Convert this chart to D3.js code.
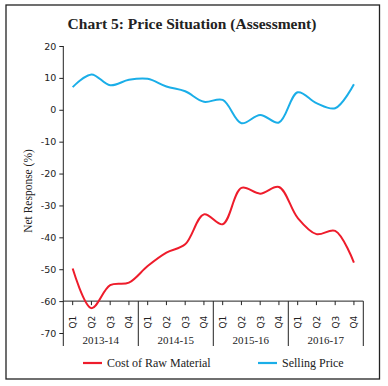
<!DOCTYPE html>
<html>
<head>
<meta charset="utf-8">
<script src="https://cdn.jsdelivr.net/npm/d3@7"></script>
<style>
  body { margin: 0; background: #fff; }
  svg { display: block; }
  .tick text { font-family: "DejaVu Sans", Verdana, sans-serif; font-size: 9.5px; fill: #222; }
</style>
</head>
<body>
<div id="chart"></div>
<script>
// data
var years = ["2013-14", "2014-15", "2015-16", "2016-17"]
var quarters = ["Q1", "Q2", "Q3", "Q4"]
var rawMaterial = [-49.8, -62.2, -55, -54.2, -49, -44.8, -42.2, -32.8, -35.9, -24.5, -26.3, -24.2, -33.9, -39, -38, -47.9]
var sellingPrice = [7.1, 11.1, 7.7, 9.4, 9.7, 7.3, 5.8, 2.5, 3.1, -4.2, -1.6, -4.0, 5.5, 2.1, 0.5, 8.0]
var yTicks = [20, 10, 0, -10, -20, -30, -40, -50, -60, -70]

var W = 388, H = 386
// plot box (window.top is read-only, so keep own names)
var pLeft = 63.3, pRight = 363.3, pTop = 46, pBottom = 333

var svg = d3.select("#chart").append("svg")
    .attr("width", W)
    .attr("height", H)

// frame
svg.append("rect")
    .attr("x", 6).attr("y", 5)
    .attr("width", 373.5).attr("height", 374)
    .attr("fill", "none")
    .attr("stroke", "#222")
    .attr("stroke-width", 1.3)

// title
svg.append("text")
    .attr("x", 192).attr("y", 29)
    .attr("text-anchor", "middle")
    .style("font-family", "'Liberation Serif', 'DejaVu Serif', serif")
    .style("font-weight", "bold")
    .style("font-size", "15.5px")
    .attr("fill", "#222")
    .text("Chart 5: Price Situation (Assessment)")

// categories: one per quarter
var cats = []
years.forEach(function(yr){
  quarters.forEach(function(q){ cats.push(yr + " " + q) })
})

var x = d3.scaleBand().domain(cats).range([pLeft, pRight])
var y = d3.scaleLinear().domain([-70, 20]).range([pBottom, pTop])

// y axis (plain hyphen for negatives, like the source)
var yAxis = svg.append("g")
    .attr("transform", "translate(" + pLeft + ",0)")
    .call(d3.axisLeft(y).tickValues(yTicks).tickSize(4).tickPadding(3)
        .tickFormat(d => String(d)))
yAxis.select(".domain").remove()
yAxis.selectAll(".tick line").attr("stroke", "#222")
svg.append("line")
    .attr("x1", pLeft).attr("x2", pLeft)
    .attr("y1", pTop).attr("y2", 346)
    .attr("stroke", "#222")

// y label
svg.append("text")
    .attr("transform", "translate(32,191) rotate(-90)")
    .attr("text-anchor", "middle")
    .style("font-family", "'Liberation Serif', 'DejaVu Serif', serif")
    .style("font-size", "11.5px")
    .attr("fill", "#222")
    .text("Net Response (%)")

// x axis sits at -60
var axisY = y(-60)
svg.append("line")
    .attr("x1", pLeft).attr("x2", pRight)
    .attr("y1", axisY).attr("y2", axisY)
    .attr("stroke", "#222")

var qg = svg.append("g")
qg.selectAll("line.qtick")
    .data(cats)
    .join("line")
    .attr("class", "qtick")
    .attr("x1", d => x(d) + x.bandwidth() / 2)
    .attr("x2", d => x(d) + x.bandwidth() / 2)
    .attr("y1", axisY).attr("y2", axisY + 4)
    .attr("stroke", "#222")

qg.selectAll("text")
    .data(cats)
    .join("text")
    .attr("transform", d => "translate(" + (x(d) + x.bandwidth() / 2 + 3.5) + "," + (axisY + 21) + ") rotate(-90)")
    .attr("text-anchor", "middle")
    .style("font-family", "'DejaVu Sans', Verdana, sans-serif")
    .style("font-size", "9px")
    .attr("fill", "#222")
    .text(d => d.split(" ")[1])

// year separators and labels
var yw = (pRight - pLeft) / years.length
svg.selectAll("line.ysep")
    .data(years)
    .join("line")
    .attr("class", "ysep")
    .attr("x1", (d, i) => pLeft + yw * (i + 1))
    .attr("x2", (d, i) => pLeft + yw * (i + 1))
    .attr("y1", axisY).attr("y2", 346)
    .attr("stroke", "#222")

svg.selectAll("text.year")
    .data(years)
    .join("text")
    .attr("class", "year")
    .attr("x", (d, i) => pLeft + yw * (i + 0.5))
    .attr("y", 344)
    .attr("text-anchor", "middle")
    .style("font-family", "'Liberation Serif', 'DejaVu Serif', serif")
    .style("font-size", "11px")
    .attr("fill", "#222")
    .text(d => d)

// lines
var line = d3.line()
    .x((d, i) => x(cats[i]) + x.bandwidth() / 2)
    .y(d => y(d))
    .curve(d3.curveCatmullRom.alpha(0.5))

svg.append("path")
    .datum(sellingPrice)
    .attr("d", line)
    .attr("fill", "none")
    .attr("stroke", "#1aaee8")
    .attr("stroke-width", 2)

svg.append("path")
    .datum(rawMaterial)
    .attr("d", line)
    .attr("fill", "none")
    .attr("stroke", "#ee1c2b")
    .attr("stroke-width", 2)

// legend
var legend = [
  {name: "Cost of Raw Material", color: "#ee1c2b", x: 83},
  {name: "Selling Price", color: "#1aaee8", x: 258}
]
var lg = svg.selectAll("g.legend")
    .data(legend)
    .join("g")
    .attr("class", "legend")
    .attr("transform", d => "translate(" + d.x + ",363)")
lg.append("line")
    .attr("x1", 0).attr("x2", 19)
    .attr("stroke", d => d.color)
    .attr("stroke-width", 2.2)
lg.append("text")
    .attr("x", 24).attr("y", 4)
    .style("font-family", "'Liberation Serif', 'DejaVu Serif', serif")
    .style("font-size", "12px")
    .attr("fill", "#222")
    .text(d => d.name)
</script>
</body>
</html>
